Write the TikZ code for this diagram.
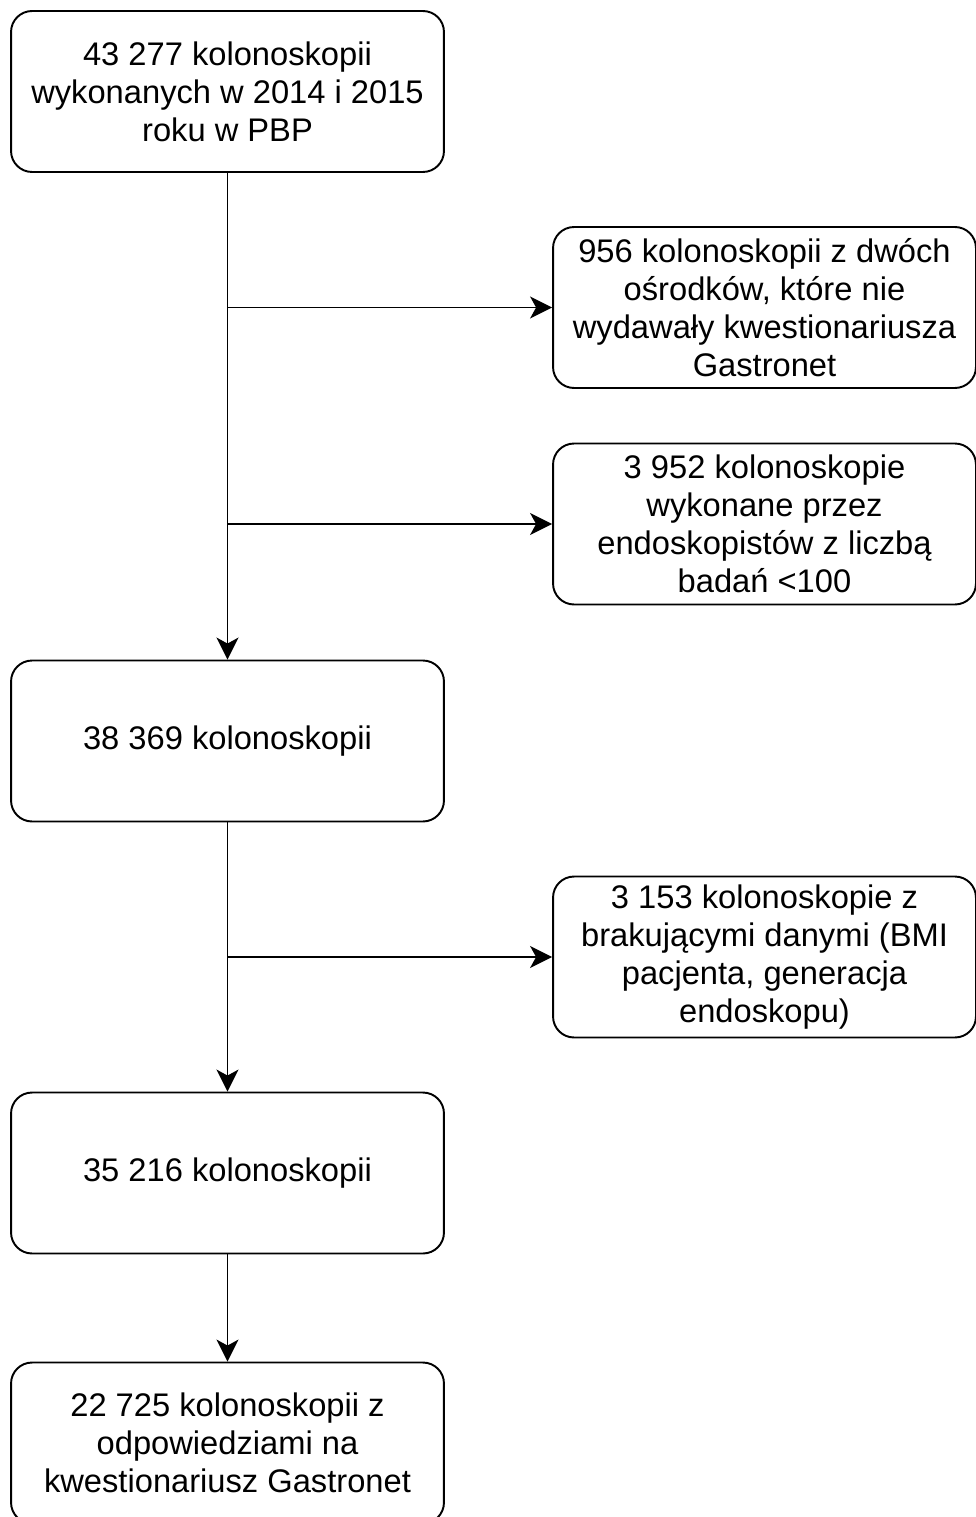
\documentclass[tikz,border=0pt]{standalone}
\usepackage{fontspec}
\setmainfont{Liberation Sans}
\usepackage{tikz}
\usetikzlibrary{arrows.meta}
\tikzset{box/.style={rectangle,draw,rounded corners=0.42cm,line width=1.1pt,minimum width=8.66cm,minimum height=3.22cm,inner sep=0pt,align=center,font=\fontsize{18.6pt}{21.6pt}\selectfont},
         sidebox/.style={box,minimum width=8.46cm}}

\begin{document}
\begin{tikzpicture}[x=0.02cm,y=-0.02cm,>={Stealth[length=0.44cm,width=0.44cm,inset=0.12cm]}]
        \useasboundingbox (0,0) rectangle (976,1517);
        \node[box] (start) at (227.5,91.5) {43 277 kolonoskopii\\wykonanych w 2014 i 2015\\roku w PBP};
        \node[sidebox] (excl1) at (764.5,307.5) {956 kolonoskopii z dwóch\\ośrodków, które nie\\wydawały kwestionariusza\\Gastronet};
        \node[sidebox] (excl2) at (764.5,524) {3 952 kolonoskopie\\wykonane przez\\endoskopistów z liczbą\\badań <100};
        \node[box] (mid1) at (227.5,741) {38 369 kolonoskopii};
        \node[sidebox] (excl3) at (764.5,957) {3 153 kolonoskopie z\\brakującymi danymi (BMI\\pacjenta, generacja\\endoskopu)};
        \node[box] (mid2) at (227.5,1173) {35 216 kolonoskopii};
        \node[box] (final) at (227.5,1443) {22 725 kolonoskopii z\\odpowiedziami na\\kwestionariusz Gastronet};

        \coordinate (b1) at (227.5,307.5);
        \coordinate (b2) at (227.5,524);
        \coordinate (b3) at (227.5,957);

        \draw [->,line width=1.1pt] (start) -- (mid1);
        \draw [->,line width=1.1pt] (b1) -- (excl1);
        \draw [->,line width=1.1pt] (b2) -- (excl2);
        \draw [->,line width=1.1pt] (mid1) -- (mid2);
        \draw [->,line width=1.1pt] (b3) -- (excl3);
        \draw [->,line width=1.1pt] (mid2) -- (final);
    \end{tikzpicture}
\end{document}
